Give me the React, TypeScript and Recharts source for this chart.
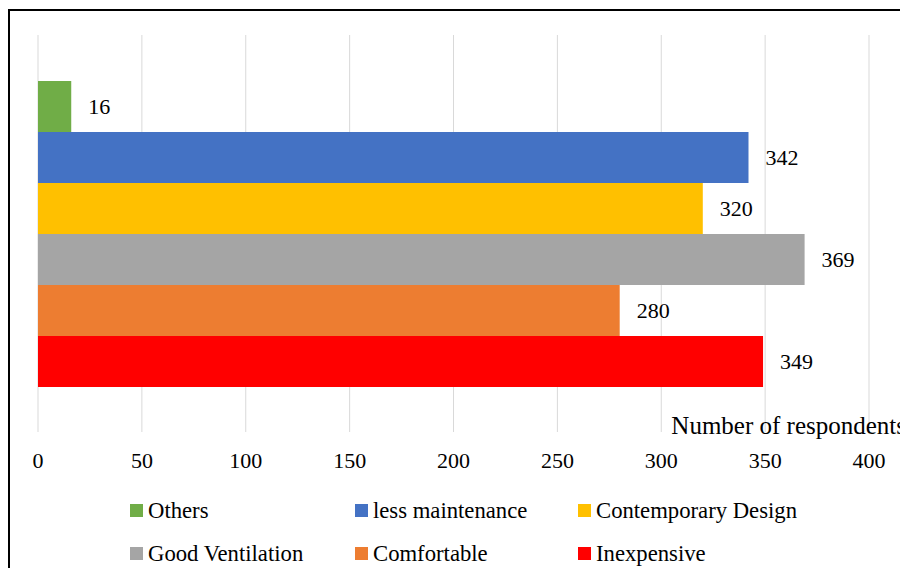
import React from "react";
import { BarChart, Bar, XAxis, YAxis, CartesianGrid, LabelList } from "recharts";

const categories = ["Respondents"];
const seriesNames = ["Others", "less maintenance", "Contemporary Design", "Good Ventilation", "Comfortable", "Inexpensive"];
const seriesKeys = ["others", "lessMaintenance", "contemporary", "ventilation", "comfortable", "inexpensive"];
const seriesValues = [16, 342, 320, 369, 280, 349];
const seriesColors = ["#70ad47", "#4472c4", "#ffc000", "#a5a5a5", "#ed7d31", "#ff0000"];
const xTicks = [0, 50, 100, 150, 200, 250, 300, 350, 400];
const axisTitle = "Number of respondents";

const FONT = "Liberation Serif, Times New Roman, serif";

const data = categories.map((c) => {
  const row: Record<string, string | number> = { name: c };
  seriesKeys.forEach((k, i) => {
    row[k] = seriesValues[i];
  });
  return row;
});

const legendPos = [
  { x: 130, y: 504 },
  { x: 355, y: 504 },
  { x: 578, y: 504 },
  { x: 130, y: 547 },
  { x: 355, y: 547 },
  { x: 578, y: 547 },
];

export default function App() {
  return (
    <div
      style={{
        position: "relative",
        width: 900,
        height: 568,
        marginBottom: -8,
        overflow: "hidden",
        fontFamily: FONT,
      }}
    >
      <div
        style={{
          position: "absolute",
          left: 0,
          top: 1,
          width: 900,
          height: 567,
          borderLeft: "2px solid #000",
          borderTop: "2px solid #000",
          boxSizing: "border-box",
        }}
      />
      <div style={{ position: "absolute", left: 0, top: 0 }}>
        <BarChart
          width={892}
          height={560}
          data={data}
          layout="vertical"
          margin={{ top: 27, right: 31, left: 30, bottom: 96 }}
          barCategoryGap={46}
          barGap={0}
          style={{ fontFamily: FONT }}
        >
          <CartesianGrid horizontal={false} stroke="#d9d9d9" strokeWidth={1} />
          <XAxis
            type="number"
            domain={[0, 400]}
            ticks={xTicks}
            axisLine={false}
            tickLine={false}
            tickSize={0}
            tickMargin={20}
            height={40}
            interval={0}
            tick={{ fontSize: 22, fill: "#000", fontFamily: FONT }}
          />
          <YAxis type="category" dataKey="name" hide width={0} />
          {seriesKeys.map((k, i) => (
            <Bar key={k} dataKey={k} name={seriesNames[i]} fill={seriesColors[i]} isAnimationActive={false}>
              <LabelList
                dataKey={k}
                position="right"
                offset={17}
                fill="#000"
                fontSize={22}
                fontFamily={FONT}
              />
            </Bar>
          ))}
        </BarChart>
      </div>
      <div
        style={{
          position: "absolute",
          right: 2,
          top: 413 - 8,
          fontSize: 25,
          lineHeight: "25px",
          whiteSpace: "nowrap",
          color: "#000",
        }}
      >
        {axisTitle}
      </div>
      {seriesNames.map((n, i) => (
        <div
          key={n}
          style={{
            position: "absolute",
            left: legendPos[i].x - 8,
            top: legendPos[i].y - 8,
            height: 13,
            display: "flex",
            alignItems: "center",
            whiteSpace: "nowrap",
          }}
        >
          <div style={{ width: 13, height: 13, background: seriesColors[i], marginRight: 5 }} />
          <span style={{ fontSize: 22.7, lineHeight: "13px", color: "#000" }}>{n}</span>
        </div>
      ))}
    </div>
  );
}
